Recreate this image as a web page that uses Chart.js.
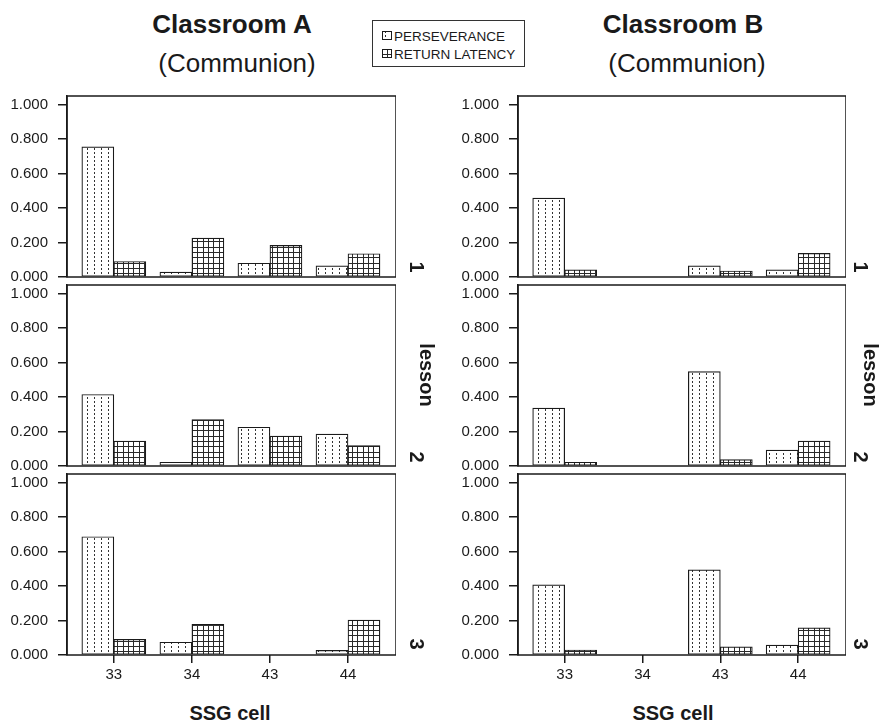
<!DOCTYPE html>
<html><head><meta charset="utf-8">
<script src="https://cdn.jsdelivr.net/npm/chart.js@4"></script>
<style>
body{margin:0;background:#fff;width:889px;height:723px;position:relative;overflow:hidden;font-family:"Liberation Sans",Arial,sans-serif;color:#1a1a1a}
.t{position:absolute;white-space:nowrap;line-height:1;transform:translate(-50%,-50%)}
.b{font-weight:bold}
.r{transform:translate(-50%,-50%) rotate(90deg)}
canvas.p{position:absolute}
#legend{position:absolute;left:372px;top:20px;width:153px;height:47px;border:1px solid #333;box-sizing:border-box}
.li{position:absolute;left:9px;font-size:13.5px;line-height:1;white-space:nowrap}
.li canvas{position:absolute;left:0;top:1px}
.li span{position:absolute;left:12px;top:0}
</style></head><body>
<div class="t b" style="left:232px;top:24px;font-size:26px">Classroom A</div>
<div class="t" style="left:237px;top:63px;font-size:26px">(Communion)</div>
<div class="t b" style="left:683px;top:24px;font-size:26px">Classroom B</div>
<div class="t" style="left:687px;top:63px;font-size:26px">(Communion)</div>
<div id="legend">
  <div class="li" style="top:9px"><canvas id="sw0" width="10" height="9"></canvas><span id="lg0"></span></div>
  <div class="li" style="top:27px"><canvas id="sw1" width="10" height="9"></canvas><span id="lg1"></span></div>
</div>
<canvas class="p" id="a1" width="396" height="221" style="left:0;top:76px"></canvas>
<canvas class="p" id="a2" width="396" height="221" style="left:0;top:265px"></canvas>
<canvas class="p" id="a3" width="396" height="236" style="left:0;top:454px"></canvas>
<canvas class="p" id="b1" width="395" height="221" style="left:451px;top:76px"></canvas>
<canvas class="p" id="b2" width="395" height="221" style="left:451px;top:265px"></canvas>
<canvas class="p" id="b3" width="395" height="236" style="left:451px;top:454px"></canvas>
<div class="t b r" style="left:417px;top:267px;font-size:20px" id="la1"></div>
<div class="t b r" style="left:417px;top:457px;font-size:20px" id="la2"></div>
<div class="t b r" style="left:417px;top:644px;font-size:20px" id="la3"></div>
<div class="t b r" style="left:427px;top:375px;font-size:20px">lesson</div>
<div class="t b r" style="left:861px;top:267px;font-size:20px" id="lb1"></div>
<div class="t b r" style="left:861px;top:457px;font-size:20px" id="lb2"></div>
<div class="t b r" style="left:861px;top:644px;font-size:20px" id="lb3"></div>
<div class="t b r" style="left:871px;top:375px;font-size:20px">lesson</div>
<div class="t b" style="left:230px;top:713px;font-size:20px">SSG cell</div>
<div class="t b" style="left:673px;top:713px;font-size:20px">SSG cell</div>
<script>
const categories = ['33','34','43','44'];
const seriesNames = ['PERSEVERANCE','RETURN LATENCY'];
const lessons = ['1','2','3'];
const yTicks = [0, 0.2, 0.4, 0.6, 0.8, 1.0];
// Classroom A (Communion)
const aPersev1 = [0.755, 0.028, 0.080, 0.065];
const aReturn1 = [0.090, 0.226, 0.183, 0.135];
const aPersev2 = [0.415, 0.022, 0.225, 0.185];
const aReturn2 = [0.144, 0.270, 0.173, 0.118];
const aPersev3 = [0.686, 0.074, 0, 0.027];
const aReturn3 = [0.091, 0.178, 0, 0.203];
// Classroom B (Communion)
const bPersev1 = [0.458, 0, 0.065, 0.042];
const bReturn1 = [0.042, 0, 0.035, 0.137];
const bPersev2 = [0.336, 0, 0.548, 0.092];
const bReturn2 = [0.022, 0, 0.037, 0.145];
const bPersev3 = [0.407, 0, 0.494, 0.057];
const bReturn3 = [0.029, 0, 0.047, 0.157];

const FONT = '"Liberation Sans", Arial, sans-serif';
const INK = '#1a1a1a';

function dotTile(){
  const c=document.createElement('canvas'); c.width=7; c.height=4;
  const g=c.getContext('2d'); g.fillStyle='#fff'; g.fillRect(0,0,7,4);
  g.fillStyle='#333'; g.fillRect(3,0,1,2);
  return c;
}
function gridTile(){
  const c=document.createElement('canvas'); c.width=16; c.height=16;
  const g=c.getContext('2d'); g.fillStyle='#fff'; g.fillRect(0,0,16,16);
  g.fillStyle='#2a2a2a';
  [0,5,11].forEach(p=>{g.fillRect(p,0,1,16); g.fillRect(0,p,16,1);});
  return c;
}
const tmp = document.createElement('canvas').getContext('2d');
const dotFill = tmp.createPattern(dotTile(),'repeat');
const gridFill = tmp.createPattern(gridTile(),'repeat');

// legend
[['sw0',dotFill],['sw1',gridFill]].forEach(([id,f])=>{
  const g=document.getElementById(id).getContext('2d');
  g.fillStyle=f; g.fillRect(0,0,10,9);
  g.strokeStyle=INK; g.lineWidth=1; g.strokeRect(0.5,0.5,9,8);
});
document.getElementById('lg0').textContent=seriesNames[0];
document.getElementById('lg1').textContent=seriesNames[1];
lessons.forEach((l,i)=>{
  document.getElementById('la'+(i+1)).textContent=l;
  document.getElementById('lb'+(i+1)).textContent=l;
});

const framePlugin={id:'frame',afterDraw(chart){
  const {ctx,chartArea:a}=chart; ctx.save();
  ctx.strokeStyle=INK; ctx.lineWidth=1.5;
  ctx.strokeRect(a.left,a.top,a.right-a.left,a.bottom-a.top);
  ctx.restore();
}};

function makePanel(id, persev, ret, isBottom){
  const ds=(label,vals,fill)=>({label, data: vals.map((v,i)=>({x:i,y:v})),
    backgroundColor: fill, borderColor: INK, borderWidth: 1.2, borderSkipped: false, barThickness: 32});
  return new Chart(document.getElementById(id).getContext('2d'), {
    type:'bar',
    data:{datasets:[ds(seriesNames[0],persev,dotFill), ds(seriesNames[1],ret,gridFill)]},
    options:{
      responsive:false, animation:false, events:[],
      layout:{padding:{top:20,bottom:isBottom?0:20,left:0,right:0}},
      plugins:{legend:{display:false},tooltip:{enabled:false}},
      scales:{
        x:{type:'linear', min:-0.6, max:3.615, display:isBottom, offset:false,
          afterBuildTicks:s=>{s.ticks=categories.map((c,i)=>({value:i}));},
          afterFit:s=>{ if(isBottom) s.height=35; },
          ticks:{callback:(v)=>categories[v], font:{size:15,family:FONT}, color:INK, padding:3, autoSkip:false, maxRotation:0},
          grid:{offset:false, drawOnChartArea:false, drawTicks:true, tickLength:8, color:INK, lineWidth:1.5},
          border:{display:false}},
        y:{min:0, max:1.05,
          afterBuildTicks:s=>{s.ticks=yTicks.map(v=>({value:v}));},
          afterFit:s=>{s.width=67;},
          ticks:{callback:v=>v.toFixed(3), font:{size:15,family:FONT}, color:INK, padding:10},
          grid:{drawOnChartArea:false, tickLength:9, color:INK, lineWidth:1.5},
          border:{display:true, color:INK, width:1.5}}
      }
    },
    plugins:[framePlugin]
  });
}
makePanel('a1', aPersev1, aReturn1, false);
makePanel('a2', aPersev2, aReturn2, false);
makePanel('a3', aPersev3, aReturn3, true);
makePanel('b1', bPersev1, bReturn1, false);
makePanel('b2', bPersev2, bReturn2, false);
makePanel('b3', bPersev3, bReturn3, true);
</script>
</body></html>
